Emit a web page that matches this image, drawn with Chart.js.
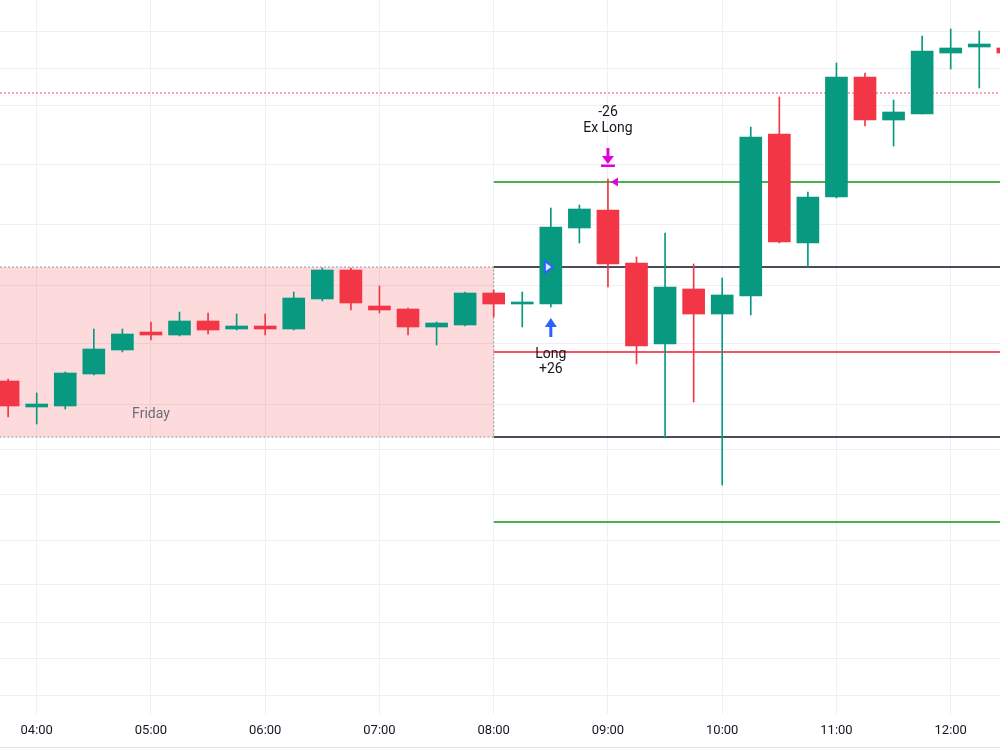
<!DOCTYPE html>
<html>
<head>
<meta charset="utf-8">
<script src="https://cdn.jsdelivr.net/npm/chart.js@4.4.1/dist/chart.umd.min.js"></script>
<style>
  html, body { margin:0; padding:0; background:#fff; }
  #wrap { width:1000px; height:750px; position:relative; }
</style>
</head>
<body>
<div id="wrap"><canvas id="chart"></canvas></div>
<script>
// 15 minute candles
const times  = ['03:45','04:00','04:15','04:30','04:45','05:00','05:15','05:30','05:45',
                '06:00','06:15','06:30','06:45','07:00','07:15','07:30','07:45',
                '08:00','08:15','08:30','08:45','09:00','09:15','09:30','09:45',
                '10:00','10:15','10:30','10:45','11:00','11:15','11:30','11:45',
                '12:00','12:15','12:30']
const opens  = [5083.25,5076.75,5077,5085,5091,5095.5,5094.75,5098.25,5096.25,
                5097,5096.25,5103.75,5111,5102,5101.25,5096.75,5097.25,
                5105.25,5102.5,5102.5,5121.5,5126,5112.75,5092.5,5106.25,
                5100,5104.5,5145,5117.75,5129.25,5159.25,5148.5,5150,
                5165.25,5166.75,5166.5]
const highs  = [5083.75,5080.25,5085.5,5096.25,5096.25,5098,5100.5,5100.25,5100,
                5100,5105.5,5111.5,5111.5,5107,5101.5,5098,5105.5,
                5106,5105.5,5126.5,5127.25,5133.75,5114.25,5120.25,5112.5,
                5109,5146.75,5154.25,5130.5,5162.75,5160.25,5153.5,5169.5,
                5171.25,5170.75,5167.5]
const lows   = [5074.25,5072.5,5076.25,5084.75,5090.5,5093.5,5094.5,5095,5096,
                5094.75,5096,5103.25,5101,5100.25,5094.75,5092.25,5097,
                5099.25,5096.75,5101.75,5117.75,5106.75,5087.5,5069,5078,
                5057.25,5099.75,5117.75,5111.75,5129,5147,5142,5150,
                5161.25,5156.5,5164.5]
const closes = [5077,5077.5,5085.25,5091.25,5095,5094.75,5098.25,5096,5097,
                5096.25,5104,5111,5102.75,5101,5096.75,5097.75,5105.25,
                5102.5,5103,5121.75,5126.25,5112.5,5092,5106.75,5100,
                5104.75,5144.25,5118,5129.25,5159.25,5148.5,5150.5,5165.75,
                5166.5,5167.5,5165.25]

const hourTicks  = [4,5,6,7,8,9,10,11,12]
const hourLabels = ['04:00','05:00','06:00','07:00','08:00','09:00','10:00','11:00','12:00']
const gridLevels = [5170.5,5161.5,5152.25,5137.25,5122.5,5107.25,5092.5,5077.5,
                    5066.25,5055,5043.5,5032.5,5023,5014,5004.75]

// session range and levels
const sessionName = 'Friday'
const sessionEnd  = '08:00'
const rangeHigh   = 5111.75
const rangeLow    = 5069.25
const rangeMid    = 5090.5
const targetUp    = 5133
const targetDown  = 5048
const prevLevel   = 5155.25

const entry = { time:'08:30', price:5111.75, label:'Long',    qty:'+26' }
const exit  = { time:'09:00', price:5133,    label:'Ex Long', qty:'-26' }

const UP = '#089981', DOWN = '#f23645'

const toHours = s => { const [h, m] = s.split(':').map(Number); return h + m / 60 }
const candleColors = opens.map((o, i) => closes[i] >= o ? UP : DOWN)

const overlay = {
  id: 'overlay',
  beforeDatasetsDraw(chart) {
    const { ctx, chartArea: a, scales: { x, y } } = chart
    const xs = x.getPixelForValue(toHours(sessionEnd))
    const yt = y.getPixelForValue(rangeHigh), yb = y.getPixelForValue(rangeLow)
    ctx.save()
    ctx.fillStyle = 'rgba(242,54,69,0.18)'
    ctx.fillRect(a.left, yt, xs - a.left, yb - yt)
    ctx.setLineDash([2, 2]); ctx.strokeStyle = '#9598a1'; ctx.lineWidth = 1
    ctx.beginPath()
    ctx.moveTo(a.left, yt); ctx.lineTo(xs, yt); ctx.lineTo(xs, yb); ctx.lineTo(a.left, yb)
    ctx.stroke()

    // previous level, dotted
    ctx.setLineDash([2, 2]); ctx.strokeStyle = 'rgba(242,54,69,0.85)'
    const yp = y.getPixelForValue(prevLevel)
    ctx.beginPath(); ctx.moveTo(a.left, yp); ctx.lineTo(a.right, yp); ctx.stroke()

    ctx.setLineDash([])
    const level = (v, color) => {
      const py = y.getPixelForValue(v)
      ctx.strokeStyle = color; ctx.lineWidth = 2.2
      ctx.beginPath(); ctx.moveTo(xs, py); ctx.lineTo(a.right, py); ctx.stroke()
    }
    level(targetUp, '#4caf50')
    level(targetDown, '#4caf50')
    level(rangeHigh, '#4a4d57')
    level(rangeLow, '#4a4d57')
    level(rangeMid, 'rgba(242,54,69,0.85)')

    ctx.fillStyle = '#6a6d78'
    ctx.font = '14px Roboto'
    ctx.textAlign = 'center'; ctx.textBaseline = 'middle'
    ctx.fillText(sessionName, x.getPixelForValue(5), y.getPixelForValue(5075))

    // bottom border
    ctx.strokeStyle = '#e0e3eb'; ctx.lineWidth = 1
    ctx.beginPath(); ctx.moveTo(0, chart.height - 2.5); ctx.lineTo(chart.width, chart.height - 2.5); ctx.stroke()
    ctx.restore()
  },
  afterDatasetsDraw(chart) {
    const { ctx, scales: { x, y } } = chart
    ctx.save()
    ctx.font = '14px Roboto'
    ctx.textAlign = 'center'; ctx.textBaseline = 'middle'

    // entry
    const ie = times.indexOf(entry.time)
    const ex = x.getPixelForValue(toHours(entry.time))
    const ey = y.getPixelForValue(entry.price)
    const el = y.getPixelForValue(lows[ie])
    ctx.fillStyle = '#dfe6ff'; ctx.strokeStyle = '#2962ff'; ctx.lineWidth = 2
    ctx.beginPath(); ctx.moveTo(ex - 6, ey - 6); ctx.lineTo(ex + 2, ey); ctx.lineTo(ex - 6, ey + 6); ctx.closePath()
    ctx.fill(); ctx.stroke()
    ctx.fillStyle = '#2962ff'
    ctx.beginPath(); ctx.moveTo(ex - 6, el + 20); ctx.lineTo(ex, el + 11); ctx.lineTo(ex + 6, el + 20); ctx.closePath(); ctx.fill()
    ctx.fillRect(ex - 1.5, el + 19, 3, 11)
    ctx.fillStyle = '#131722'
    ctx.fillText(entry.label, ex, el + 47)
    ctx.fillText(entry.qty, ex, el + 62)

    // exit
    const ix = times.indexOf(exit.time)
    const xx = x.getPixelForValue(toHours(exit.time))
    const xy = y.getPixelForValue(exit.price)
    const xh = y.getPixelForValue(highs[ix])
    ctx.fillStyle = '#e000e0'
    ctx.beginPath(); ctx.moveTo(xx + 3, xy); ctx.lineTo(xx + 10, xy - 4.5); ctx.lineTo(xx + 10, xy + 4.5); ctx.closePath(); ctx.fill()
    ctx.fillRect(xx - 1.5, xh - 31, 3, 10)
    ctx.beginPath(); ctx.moveTo(xx - 6, xh - 23); ctx.lineTo(xx, xh - 15); ctx.lineTo(xx + 6, xh - 23); ctx.closePath(); ctx.fill()
    ctx.fillRect(xx - 7, xh - 14.5, 14, 2.5)
    ctx.fillStyle = '#131722'
    ctx.fillText(exit.label, xx, xh - 51)
    ctx.fillText(exit.qty, xx, xh - 67)
    ctx.restore()
  }
}

new Chart(document.getElementById('chart'), {
  type: 'bar',
  data: {
    datasets: [
      {
        label: 'body',
        data: times.map((t, i) => ({ x: toHours(t), y: [opens[i], closes[i]] })),
        backgroundColor: candleColors,
        barThickness: 22, grouped: false, order: 0
      },
      {
        label: 'wick',
        data: times.map((t, i) => ({ x: toHours(t), y: [lows[i], highs[i]] })),
        backgroundColor: candleColors,
        barThickness: 1, grouped: false, order: 1
      }
    ]
  },
  options: {
    responsive: true, maintainAspectRatio: false, animation: false,
    layout: { padding: 0 },
    plugins: { legend: { display: false }, tooltip: { enabled: false } },
    scales: {
      x: {
        type: 'linear', min: 3.67877, max: 12.43151, offset: false,
        afterBuildTicks: s => { s.ticks = hourTicks.map(v => ({ value: v })) },
        afterFit: s => { s.height = 36 },
        grid: { color: '#eef0f3', drawTicks: false, offset: false },
        border: { display: false },
        ticks: {
          padding: 9, color: '#131722', font: { family: 'Roboto', size: 13 },
          maxRotation: 0, autoSkip: false,
          callback: v => hourLabels[hourTicks.indexOf(v)]
        }
      },
      y: {
        min: 5000, max: 5178.5,
        afterBuildTicks: s => { s.ticks = gridLevels.map(v => ({ value: v })) },
        afterFit: s => { s.width = 0 },
        grid: { color: '#eef0f3', drawTicks: false },
        border: { display: false },
        ticks: { display: false }
      }
    }
  },
  plugins: [overlay]
})
</script>
</body>
</html>
